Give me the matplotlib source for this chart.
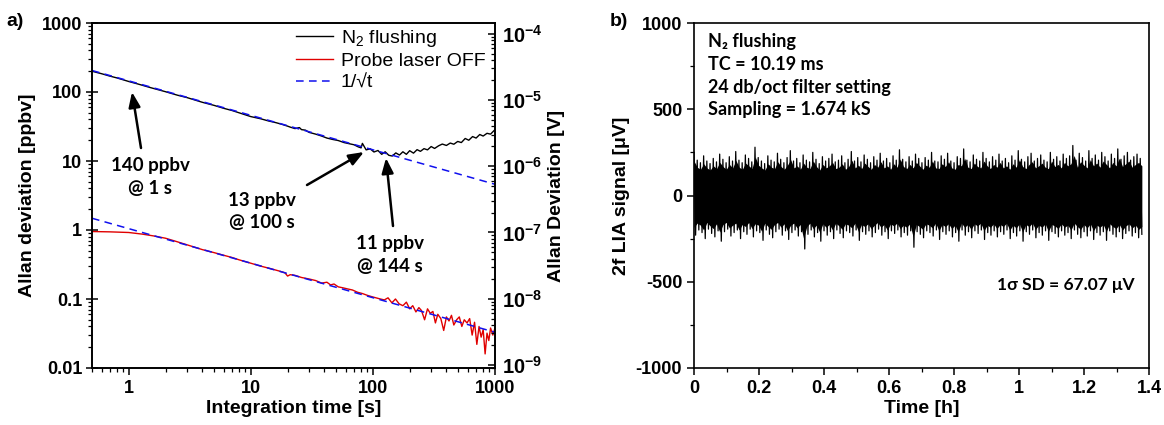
import numpy as np
import matplotlib
matplotlib.use("Agg")
import matplotlib.pyplot as plt
from matplotlib.ticker import LogLocator, NullFormatter, FixedLocator, MultipleLocator

plt.rcParams['font.family'] = ['Liberation Sans', 'DejaVu Sans']
plt.rcParams['mathtext.fontset'] = 'custom'
plt.rcParams['mathtext.rm'] = 'Liberation Sans'
plt.rcParams['mathtext.bf'] = 'Liberation Sans:bold'
plt.rcParams['mathtext.it'] = 'Liberation Sans:italic'

# ---------------- data: panel a ----------------
t_n2 = [0.5, 0.6, 0.7, 0.8, 1.0, 1.2, 1.5, 2, 2.5, 3, 4, 5, 6, 7, 8, 10, 12, 14, 16, 18,
        20, 21, 23, 25, 26, 28, 30, 34, 38, 42, 47, 52, 58, 64, 70, 76, 80, 82, 88, 95,
        102, 110, 118, 126, 135, 144, 154, 165, 176, 188, 200, 215, 230, 245, 262, 280,
        300, 320, 345, 370, 400, 430, 460, 495, 530, 570, 610, 655, 700, 750, 800, 860,
        920, 960, 1000]
allan_n2 = [200, 184, 170, 160, 142, 130, 116, 101, 90, 83, 71, 64, 58, 54, 50, 44, 41, 38, 36, 34,
            32, 31, 29.5, 30.5, 28.5, 28, 26, 24.5, 23, 21.5, 20.5, 19.8, 18.5, 17.8, 17.2, 16, 15.5, 18, 14.5, 15,
            13.5, 14.2, 12.5, 13.6, 12.1, 11.8, 13.1, 12.2, 13.6, 12.5, 14.1, 13, 14.6, 13.8, 15.1, 14.5,
            16.2, 15.2, 16.6, 17.6, 16.8, 18.2, 17.5, 19.2, 18.5, 21.2, 20, 22.6, 21.5, 24.2, 23, 25.2,
            24.5, 26.5, 28.5]

t_off = [0.5, 0.7, 1.0, 1.3, 1.6, 2.0, 2.4, 3, 3.5, 4, 5, 6, 7, 8, 10, 12, 14, 17, 19, 20,
         21, 23, 26, 30, 34, 38, 42, 45, 48, 52, 57, 62, 68, 75, 82, 90, 98, 106, 115, 124,
         133, 143, 153, 164, 176, 188, 200, 212, 225, 238, 250, 265, 280, 295, 310, 325, 340,
         360, 380, 400, 420, 440, 460, 485, 510, 535, 560, 590, 620, 650, 680, 710, 740, 770,
         800, 830, 860, 890, 920, 960, 1000]
allan_off = [0.95, 0.94, 0.92, 0.87, 0.82, 0.76, 0.69, 0.61, 0.56, 0.52, 0.47, 0.43, 0.40, 0.37, 0.33,
             0.30, 0.28, 0.255, 0.24, 0.215, 0.225, 0.22, 0.205, 0.195, 0.185, 0.17, 0.175, 0.16,
             0.165, 0.15, 0.145, 0.14, 0.135, 0.125, 0.12, 0.113, 0.108, 0.104, 0.1, 0.097, 0.104,
             0.088, 0.1, 0.085, 0.08, 0.09, 0.072, 0.08, 0.065, 0.075, 0.068, 0.05, 0.072, 0.062,
             0.066, 0.045, 0.06, 0.052, 0.035, 0.055, 0.048, 0.058, 0.042, 0.05, 0.055, 0.04, 0.05,
             0.045, 0.052, 0.03, 0.046, 0.022, 0.04, 0.028, 0.036, 0.016, 0.032, 0.025, 0.038, 0.03,
             0.038]

fit_t = [0.5, 1000]
fit_upper = [205, 4.6]
fit_lower = [1.48, 0.033]

# ---------------- data: panel b ----------------
t_end_h = 1.378
sig_upper = [250, 205, 190, 230, 200, 185, 215, 195, 240, 210, 190, 225, 200, 255, 205, 190, 235, 215,
             195, 280, 220, 200, 185, 230, 205, 195, 245, 210, 190, 220, 260, 200, 215, 190, 235, 205,
             195, 250, 210, 185, 225, 200, 215, 240, 195, 205, 230, 190, 210, 255, 200, 220, 195, 235,
             210, 190, 225, 205, 245, 200, 215, 190, 230, 205, 265, 210, 195, 225, 200, 240, 215, 190,
             220, 205, 250, 200, 195, 230, 210, 245, 200, 190, 225, 215, 270, 205, 195, 235, 210, 200,
             250, 215, 195, 225, 205, 240, 200, 215, 190, 230, 205, 260, 210, 195, 225, 245, 200, 215,
             235, 205, 195, 250, 210, 225, 200, 240, 215, 230, 290, 205, 245, 220, 200, 260, 215, 235,
             205, 250, 225, 200, 240, 215, 270, 210, 230, 250, 205, 225, 240, 215]
sig_lower = [-230, -200, -215, -250, -195, -220, -240, -205, -265, -210, -195, -235, -215, -200, -250,
             -210, -225, -195, -240, -205, -215, -260, -200, -225, -245, -210, -195, -230, -205, -255,
             -215, -200, -235, -210, -310, -225, -200, -240, -215, -265, -205, -230, -210, -250, -200,
             -220, -245, -205, -215, -235, -200, -260, -210, -225, -205, -240, -215, -195, -230, -210,
             -250, -205, -220, -200, -240, -215, -230, -205, -300, -210, -225, -245, -205, -215, -235,
             -200, -255, -210, -225, -205, -240, -215, -265, -200, -230, -210, -245, -205, -220, -200,
             -255, -215, -230, -205, -240, -210, -225, -200, -250, -215, -235, -205, -265, -210, -225,
             -200, -245, -215, -230, -205, -260, -210, -220, -240, -205, -230, -215, -250, -200, -225,
             -245, -210, -235, -205, -255, -215, -230, -210, -260, -205, -225, -240, -210, -250, -220,
             -205, -235, -215, -245, -225]

# ---------------- figure ----------------
W, H = 1164, 425
fig = plt.figure(figsize=(W / 100, H / 100), dpi=100)

def fx(px):
    return px / W

def fy(py):
    return 1 - py / H

tick_fs = 13
label_fs = 14

ax = fig.add_axes([fx(92), fy(368), fx(495) - fx(92), fy(23) - fy(368)])
ax.set_xscale('log')
ax.set_yscale('log')
ax.set_xlim(0.5, 1000)
ax.set_ylim(0.01, 1000)

l1, = ax.plot(t_n2, allan_n2, color='black', lw=1.0, label=r'N$_2$ flushing')
l2, = ax.plot(t_off, allan_off, color='#e00000', lw=1.0, label='Probe laser OFF')
l3, = ax.plot(fit_t, fit_upper, color='#1010ee', lw=1.1, ls=(0, (5, 3.5)), label='1/\u221at')
ax.plot(fit_t, fit_lower, color='#1010ee', lw=1.1, ls=(0, (5, 3.5)))

for s in ax.spines.values():
    s.set_linewidth(1.2)
ax.tick_params(axis='both', which='major', direction='out', length=5, width=1.1, labelsize=tick_fs)
ax.tick_params(axis='both', which='minor', direction='out', length=3, width=0.9)
ax.tick_params(axis='y', which='major', direction='inout', length=8, pad=3)
ax.xaxis.set_major_locator(FixedLocator([1, 10, 100, 1000]))
ax.set_xticklabels(['1', '10', '100', '1000'], fontweight='bold')
ax.xaxis.set_minor_locator(LogLocator(base=10, subs=np.arange(2, 10), numticks=20))
ax.xaxis.set_minor_formatter(NullFormatter())
ax.yaxis.set_major_locator(FixedLocator([0.01, 0.1, 1, 10, 100, 1000]))
ax.set_yticklabels(['0.01', '0.1', '1', '10', '100', '1000'], fontweight='bold')
ax.yaxis.set_minor_locator(LogLocator(base=10, subs=np.arange(2, 10), numticks=20))
ax.yaxis.set_minor_formatter(NullFormatter())
ax.set_xlabel('Integration time [s]', fontsize=label_fs, fontweight='bold', labelpad=2)
ax.set_ylabel('Allan deviation [ppbv]', fontsize=label_fs, fontweight='bold', labelpad=4)

ax2 = ax.twinx()
ax2.set_yscale('log')
ax2.set_ylim(9.0e-10, 1.45e-4)
ax2.yaxis.set_major_locator(FixedLocator([1e-9, 1e-8, 1e-7, 1e-6, 1e-5, 1e-4]))
ax2.set_yticklabels([r'$\mathbf{10^{-9}}$', r'$\mathbf{10^{-8}}$', r'$\mathbf{10^{-7}}$',
                     r'$\mathbf{10^{-6}}$', r'$\mathbf{10^{-5}}$', r'$\mathbf{10^{-4}}$'])
ax2.yaxis.set_minor_locator(LogLocator(base=10, subs=np.arange(2, 10), numticks=20))
ax2.yaxis.set_minor_formatter(NullFormatter())
ax2.tick_params(axis='y', which='major', direction='in', length=5, width=1.1, labelsize=tick_fs + 1.5, pad=5)
ax2.tick_params(axis='y', which='minor', direction='in', length=3, width=0.9)
ax2.set_ylabel('Allan Deviation [V]', fontsize=label_fs, fontweight='bold', labelpad=4)
for s in ax2.spines.values():
    s.set_linewidth(1.2)

leg = ax.legend(handles=[l1, l2, l3], loc='upper right', frameon=False, fontsize=14,
                handlelength=1.9, handletextpad=0.4, labelspacing=0.2,
                bbox_to_anchor=(1.0, 1.015), borderaxespad=0.1)

ann_font = dict(fontsize=13.5, fontweight='bold', family=['Lato', 'DejaVu Sans'], ha='center', va='center')
arrow = dict(arrowstyle='-|>,head_length=0.9,head_width=0.35', color='black', lw=1.8, shrinkA=0, shrinkB=0)

def fig2data(px, py):
    return ax.transData.inverted().transform(fig.transFigure.transform((fx(px), fy(py))))

ax.annotate('', xy=fig2data(132, 92), xytext=fig2data(141, 148), arrowprops=arrow)
ax.annotate('', xy=fig2data(364, 152), xytext=fig2data(307, 185), arrowprops=arrow)
ax.annotate('', xy=fig2data(386, 158), xytext=fig2data(393, 226), arrowprops=arrow)
fig.text(fx(150), fy(165), '140 ppbv', **ann_font)
fig.text(fx(150), fy(188), '@ 1 s', **ann_font)
fig.text(fx(262), fy(201), '13 ppbv', **ann_font)
fig.text(fx(262), fy(223), '@ 100 s', **ann_font)
fig.text(fx(390), fy(244), '11 ppbv', **ann_font)
fig.text(fx(390), fy(266), '@ 144 s', **ann_font)
fig.text(fx(6), fy(22), 'a)', fontsize=14, fontweight='bold', va='center', ha='left')

# ---------------- panel b ----------------
bx = fig.add_axes([fx(694), fy(368), fx(1149) - fx(694), fy(23) - fy(368)])
n_sig = len(sig_upper)
t_sig = np.linspace(0, t_end_h, 2 * n_sig)
sig_trace = np.empty(2 * n_sig)
sig_trace[0::2] = sig_upper
sig_trace[1::2] = sig_lower
bx.fill_between(np.linspace(0, t_end_h, n_sig), np.array(sig_lower) * 0.8, np.array(sig_upper) * 0.8,
                color='black', lw=0)
bx.plot(t_sig, sig_trace, color='black', lw=0.9)
bx.set_xlim(0, 1.4)
bx.set_ylim(-1000, 1000)
bx.xaxis.set_major_locator(FixedLocator([0, 0.2, 0.4, 0.6, 0.8, 1.0, 1.2, 1.4]))
bx.set_xticklabels(['0', '0.2', '0.4', '0.6', '0.8', '1', '1.2', '1.4'], fontweight='bold')
bx.xaxis.set_minor_locator(MultipleLocator(0.1))
bx.yaxis.set_major_locator(FixedLocator([-1000, -500, 0, 500, 1000]))
bx.set_yticklabels(['-1000', '-500', '0', '500', '1000'], fontweight='bold')
bx.yaxis.set_minor_locator(MultipleLocator(250))
bx.tick_params(axis='both', which='major', direction='out', length=5, width=1.1, labelsize=tick_fs)
bx.tick_params(axis='both', which='minor', direction='out', length=3, width=0.9)
for s in bx.spines.values():
    s.set_linewidth(1.2)
bx.set_xlabel('Time [h]', fontsize=label_fs, fontweight='bold', labelpad=2)
bx.set_ylabel('2f LIA signal [\u03bcV]', fontsize=label_fs, fontweight='bold', labelpad=4)

info_font = dict(fontsize=13, fontweight='bold', family=['Lato', 'DejaVu Sans'], va='center', ha='left')
fig.text(fx(708), fy(42), 'N\u2082 flushing', **info_font)
fig.text(fx(708), fy(64), 'TC = 10.19 ms', **info_font)
fig.text(fx(708), fy(87), '24 db/oct filter setting', **info_font)
fig.text(fx(708), fy(110), 'Sampling = 1.674 kS', **info_font)
fig.text(fx(1135), fy(285), '1\u03c3 SD = 67.07 \u03bcV', fontsize=12.5, fontweight='bold',
         family=['Lato', 'DejaVu Sans'], va='center', ha='right')
fig.text(fx(610), fy(22), 'b)', fontsize=14, fontweight='bold', va='center', ha='left')

fig.savefig('out.png', dpi=100)
